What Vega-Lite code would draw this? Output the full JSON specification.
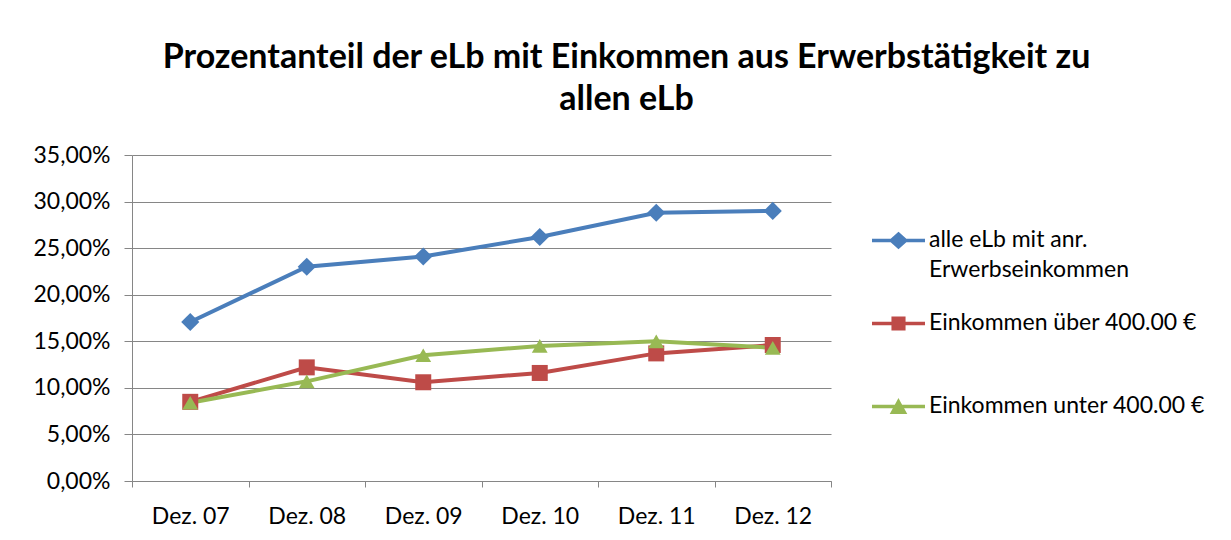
{
  "$schema": "https://vega.github.io/schema/vega-lite/v6.json",
  "width": 699,
  "height": 326,
  "autosize": "none",
  "padding": {"left": 132, "top": 155, "right": 400, "bottom": 59},
  "background": "white",
  "title": {
    "text": ["Prozentanteil der eLb mit Einkommen aus Erwerbstätigkeit zu", "allen eLb"],
    "fontSize": 34,
    "fontWeight": "bold",
    "font": "Lato",
    "color": "#000000",
    "anchor": "middle",
    "dx": 145,
    "offset": 27,
    "lineHeight": 42
  },
  "data": {
    "values": [
      {"monat": "Dez. 07", "serie": "alle eLb mit anr. Erwerbseinkommen", "anteil": 0.1707},
      {"monat": "Dez. 08", "serie": "alle eLb mit anr. Erwerbseinkommen", "anteil": 0.2300},
      {"monat": "Dez. 09", "serie": "alle eLb mit anr. Erwerbseinkommen", "anteil": 0.2410},
      {"monat": "Dez. 10", "serie": "alle eLb mit anr. Erwerbseinkommen", "anteil": 0.2620},
      {"monat": "Dez. 11", "serie": "alle eLb mit anr. Erwerbseinkommen", "anteil": 0.2880},
      {"monat": "Dez. 12", "serie": "alle eLb mit anr. Erwerbseinkommen", "anteil": 0.2900},
      {"monat": "Dez. 07", "serie": "Einkommen über 400.00 €", "anteil": 0.0850},
      {"monat": "Dez. 08", "serie": "Einkommen über 400.00 €", "anteil": 0.1220},
      {"monat": "Dez. 09", "serie": "Einkommen über 400.00 €", "anteil": 0.1060},
      {"monat": "Dez. 10", "serie": "Einkommen über 400.00 €", "anteil": 0.1160},
      {"monat": "Dez. 11", "serie": "Einkommen über 400.00 €", "anteil": 0.1370},
      {"monat": "Dez. 12", "serie": "Einkommen über 400.00 €", "anteil": 0.1460},
      {"monat": "Dez. 07", "serie": "Einkommen unter 400.00 €", "anteil": 0.0840},
      {"monat": "Dez. 08", "serie": "Einkommen unter 400.00 €", "anteil": 0.1070},
      {"monat": "Dez. 09", "serie": "Einkommen unter 400.00 €", "anteil": 0.1350},
      {"monat": "Dez. 10", "serie": "Einkommen unter 400.00 €", "anteil": 0.1450},
      {"monat": "Dez. 11", "serie": "Einkommen unter 400.00 €", "anteil": 0.1500},
      {"monat": "Dez. 12", "serie": "Einkommen unter 400.00 €", "anteil": 0.1430}
    ]
  },
  "encoding": {
    "x": {
      "field": "monat",
      "type": "ordinal",
      "sort": null,
      "bandPosition": 0.5,
      "scale": {"type": "band", "paddingInner": 0, "paddingOuter": 0},
      "axis": {
        "title": null,
        "labelAngle": 0,
        "labelFontSize": 23,
        "labelColor": "#000000",
        "labelFont": "Lato",
        "domainColor": "#868686",
        "tickColor": "#868686",
        "tickSize": 6,
        "tickBand": "extent",
        "labelPadding": 18,
        "grid": false
      }
    },
    "y": {
      "field": "anteil",
      "type": "quantitative",
      "scale": {"domain": [0, 0.35]},
      "axis": {
        "title": null,
        "values": [0, 0.05, 0.1, 0.15, 0.2, 0.25, 0.3, 0.35],
        "labelExpr": "replace(format(datum.value, '.2%'), '.', ',')",
        "labelFontSize": 23,
        "labelColor": "#000000",
        "labelFont": "Lato",
        "grid": true,
        "gridColor": "#868686",
        "domainColor": "#868686",
        "tickColor": "#868686",
        "tickSize": 8,
        "labelPadding": 14
      }
    },
    "color": {
      "field": "serie",
      "type": "nominal",
      "sort": null,
      "title": null,
      "scale": {
        "domain": ["alle eLb mit anr. Erwerbseinkommen", "Einkommen über 400.00 €", "Einkommen unter 400.00 €"],
        "range": ["#4a7ebb", "#be4b48", "#98b954"]
      },
      "legend": {
        "labelExpr": "datum.label == 'alle eLb mit anr. Erwerbseinkommen' ? ['alle eLb mit anr.', 'Erwerbseinkommen'] : datum.label",
        "encode": {
          "labels": {
            "update": {
              "lineHeight": {"value": 30},
              "baseline": {"value": "top"},
              "dy": {"value": -12}
            }
          }
        }
      }
    }
  },
  "layer": [
    {"mark": {"type": "line", "strokeWidth": 4}},
    {
      "transform": [{"filter": "datum.serie == 'alle eLb mit anr. Erwerbseinkommen'"}],
      "mark": {"type": "point", "filled": true, "opacity": 1, "shape": "diamond", "size": 330}
    },
    {
      "transform": [{"filter": "datum.serie == 'Einkommen über 400.00 €'"}],
      "mark": {"type": "point", "filled": true, "opacity": 1, "shape": "square", "size": 256}
    },
    {
      "transform": [{"filter": "datum.serie == 'Einkommen unter 400.00 €'"}],
      "mark": {"type": "point", "filled": true, "opacity": 1, "shape": "triangle-up", "size": 250}
    },
    {
      "mark": {"type": "point", "filled": true, "opacity": 0},
      "encoding": {
        "shape": {
          "field": "serie",
          "type": "nominal",
          "sort": null,
          "title": null,
          "scale": {
            "domain": ["alle eLb mit anr. Erwerbseinkommen", "Einkommen über 400.00 €", "Einkommen unter 400.00 €"],
            "range": [
              "M-1,0H1M0,-0.24L0.27,0L0,0.24L-0.27,0Z",
              "M-1,0H1M-0.2,-0.2H0.2V0.2H-0.2Z",
              "M-1,0H1M0,-0.18L0.22,0.22H-0.22Z"
            ]
          }
        }
      }
    }
  ],
  "config": {
    "view": {"stroke": null},
    "font": "Lato",
    "legend": {
      "orient": "none",
      "legendX": 738,
      "legendY": 57,
      "titleFontSize": 0,
      "labelFontSize": 23,
      "labelColor": "#000000",
      "labelFont": "Lato",
      "labelOffset": 2,
      "labelLimit": 400,
      "symbolSize": 2809,
      "symbolOpacity": 1,
      "symbolStrokeWidth": 3.5,
      "gridAlign": "all",
      "rowPadding": 13
    }
  }
}
